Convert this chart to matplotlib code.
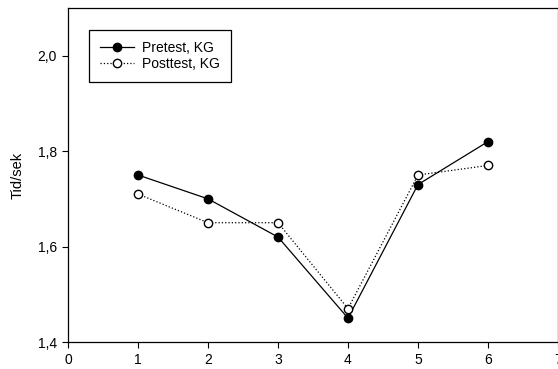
import matplotlib.pyplot as plt
from matplotlib.ticker import FuncFormatter

plt.rcParams['font.family'] = ['Liberation Sans', 'DejaVu Sans']

x = [1, 2, 3, 4, 5, 6]
pretest = [1.75, 1.70, 1.62, 1.45, 1.73, 1.82]
posttest = [1.71, 1.65, 1.65, 1.47, 1.75, 1.77]
x_ticks = [0, 1, 2, 3, 4, 5, 6, 7]
y_ticks = [1.4, 1.6, 1.8, 2.0]

fig = plt.figure(figsize=(5.58, 3.69), dpi=100)
ax = fig.add_axes([68 / 558, 1 - 342 / 369, 490 / 558, 334 / 369])

ax.plot(x, pretest, c='k', ls='-', lw=0.9, marker='o', ms=6,
        mfc='k', mec='k', label='Pretest, KG')
ax.plot(x, posttest, c='k', ls=':', lw=0.9, marker='o', ms=6,
        mfc='white', mec='k', label='Posttest, KG')

ax.set_xlim(0, 7)
ax.set_ylim(1.4, 2.1)
ax.set_xticks(x_ticks)
ax.set_yticks(y_ticks)
ax.yaxis.set_major_formatter(FuncFormatter(lambda v, p: f'{v:.1f}'.replace('.', ',')))
ax.tick_params(labelsize=10, length=4, width=0.8, direction='out', pad=4)
for s in ax.spines.values():
    s.set_linewidth(0.9)

ax.set_ylabel('Tid/sek', fontsize=10.5, labelpad=9)

leg = ax.legend(loc='upper left', bbox_to_anchor=(0.043, 0.934), borderaxespad=0,
                fontsize=10, fancybox=False, edgecolor='k', framealpha=1,
                handlelength=2.4, labelspacing=0.15, borderpad=0.8, handletextpad=0.6)
leg.get_frame().set_linewidth(0.9)

fig.savefig('out.png', dpi=100)
